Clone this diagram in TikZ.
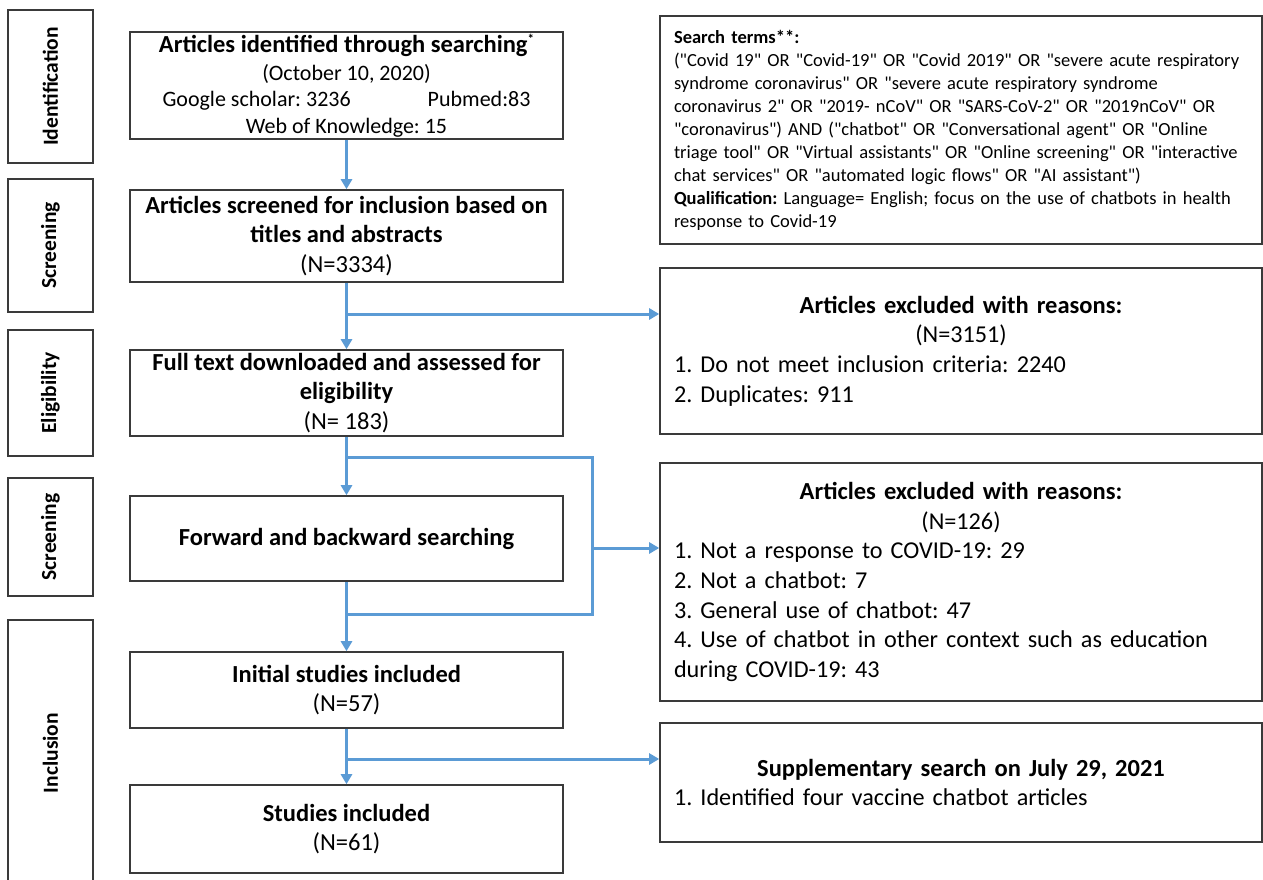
\documentclass[tikz,border=0pt]{standalone}
\usepackage{fontspec}
\setmainfont{Carlito}[Ligatures=TeXOff]
\usetikzlibrary{arrows.meta}
\definecolor{flowblue}{HTML}{5B9BD5}
\definecolor{boxgray}{HTML}{3A3A3A}
\begin{document}
\frenchspacing
\begin{tikzpicture}[x=1pt,y=-1pt,
  box/.style={draw=boxgray,line width=1.6pt,inner sep=0pt,align=center,minimum width=433pt,font=\fontsize{24.5}{29.8}\selectfont},
  sidebox/.style={draw=boxgray,line width=1.6pt,inner sep=0pt,rotate=90,minimum height=85pt,font=\fontsize{21.5}{26}\selectfont\bfseries},
  rbox/.style={draw=boxgray,line width=1.6pt,inner sep=0pt,align=left,text width=574pt,minimum width=602pt,font=\fontsize{24.2}{29.7}\selectfont},
  flow/.style={draw=flowblue,line width=3pt,-{Triangle[length=10pt,width=11pt]}},
  flowline/.style={draw=flowblue,line width=3pt}
]
\useasboundingbox (0,0) rectangle (1263,879);
\fill[white] (0,0) rectangle (1263,879);

% side labels
\node[sidebox,minimum width=153pt] (sid) at (50.5,86.5) {Identification};
\node[sidebox,minimum width=133pt] (sscr) at (50.5,245.5) {Screening};
\node[sidebox,minimum width=126pt] (selig) at (50.5,393) {Eligibility};
\node[sidebox,minimum width=118pt] (sscr2) at (50.5,537) {Screening};
\begin{scope}
\clip (0,0) rectangle (1263,879);
\node[sidebox,minimum width=266pt] (sincl) at (50.5,753) {Inclusion};
\end{scope}

% main column
\node[box,minimum height=107pt,font=\fontsize{22}{26.5}\selectfont] (b1) at (346.5,85.5)
  {{\fontsize{24.5}{28}\selectfont\bfseries Articles identified through searching\raisebox{9pt}{\fontsize{13}{13}\selectfont *}}\\[1pt]
   (October 10, 2020)\\
   Google scholar: 3236\hspace{77pt}Pubmed:83\\
   Web of Knowledge: 15};
\node[box,minimum height=92pt] (b2) at (346.5,236)
  {\textbf{Articles screened for inclusion based on}\\ \textbf{titles and abstracts}\\ (N=3334)};
\node[box,minimum height=86pt] (b3) at (346.5,393)
  {\textbf{Full text downloaded and assessed for}\\ \textbf{eligibility}\\ (N= 183)};
\node[box,minimum height=85pt] (b4) at (346.5,538.5)
  {\textbf{Forward and backward searching}};
\node[box,minimum height=76pt] (b5) at (346.5,690)
  {\textbf{Initial studies included}\\ (N=57)};
\node[box,minimum height=88pt] (b6) at (346.5,829)
  {\textbf{Studies included}\\ (N=61)};

% right column
\node[rbox,minimum height=228pt,font=\fontsize{18.5}{23}\selectfont] (terms) at (961,130)
  {\textbf{Search terms**:}\\
   ("Covid 19" OR "Covid-19" OR "Covid 2019" OR "severe acute respiratory\\
   syndrome coronavirus" OR "severe acute respiratory syndrome\\
   coronavirus 2" OR "2019- nCoV" OR "SARS-CoV-2" OR "2019nCoV" OR\\
   "coronavirus") AND ("chatbot" OR "Conversational agent" OR "Online\\
   triage tool" OR "Virtual assistants" OR "Online screening" OR "interactive\\
   chat services" OR "automated logic flows" OR "AI assistant")\\
   \textbf{Qualification:} Language= English; focus on the use of chatbots in health\\
   response to Covid-19};
\node[rbox,minimum height=166pt] (ex1) at (961,351)
  {\makebox[574pt][c]{\fontsize{24.5}{29.7}\selectfont\textbf{Articles excluded with reasons:}}\\
   \makebox[574pt][c]{(N=3151)}\\
   1. Do not meet inclusion criteria: 2240\\
   2. Duplicates: 911};
\node[rbox,minimum height=238pt] (ex2) at (961,582)
  {\makebox[574pt][c]{\fontsize{24.5}{29.7}\selectfont\textbf{Articles excluded with reasons:}}\\
   \makebox[574pt][c]{(N=126)}\\
   1. Not a response to COVID-19: 29\\
   2. Not a chatbot: 7\\
   3. General use of chatbot: 47\\
   4. Use of chatbot in other context such as education\\
   during COVID-19: 43};
\node[rbox,minimum height=119pt] (supp) at (961,782.5)
  {\makebox[574pt][c]{\fontsize{24.5}{29.7}\selectfont\textbf{Supplementary search on July 29, 2021}}\\
   1. Identified four vaccine chatbot articles};

% connectors
\coordinate (j1) at (346.5,314);
\coordinate (j2) at (346.5,457);
\coordinate (c1) at (592,457);
\coordinate (c2) at (592,614);
\coordinate (c3) at (592,548);
\coordinate (j3) at (346.5,759);

\draw[flow] (b1.south) -- (b2.north);
\draw[flow] (b2.south) -- (b3.north);
\draw[flow] (j1) -- (j1 -| ex1.west);
\draw[flow] (b3.south) -- (b4.north);
\draw[flowline] (j2) -- (c1) -- (c2) -- (c2 -| b4.south);
\draw[flow] (c3) -- (c3 -| ex2.west);
\draw[flow] (b4.south) -- (b5.north);
\draw[flow] (b5.south) -- (b6.north);
\draw[flow] (j3) -- (j3 -| supp.west);
\end{tikzpicture}
\end{document}
